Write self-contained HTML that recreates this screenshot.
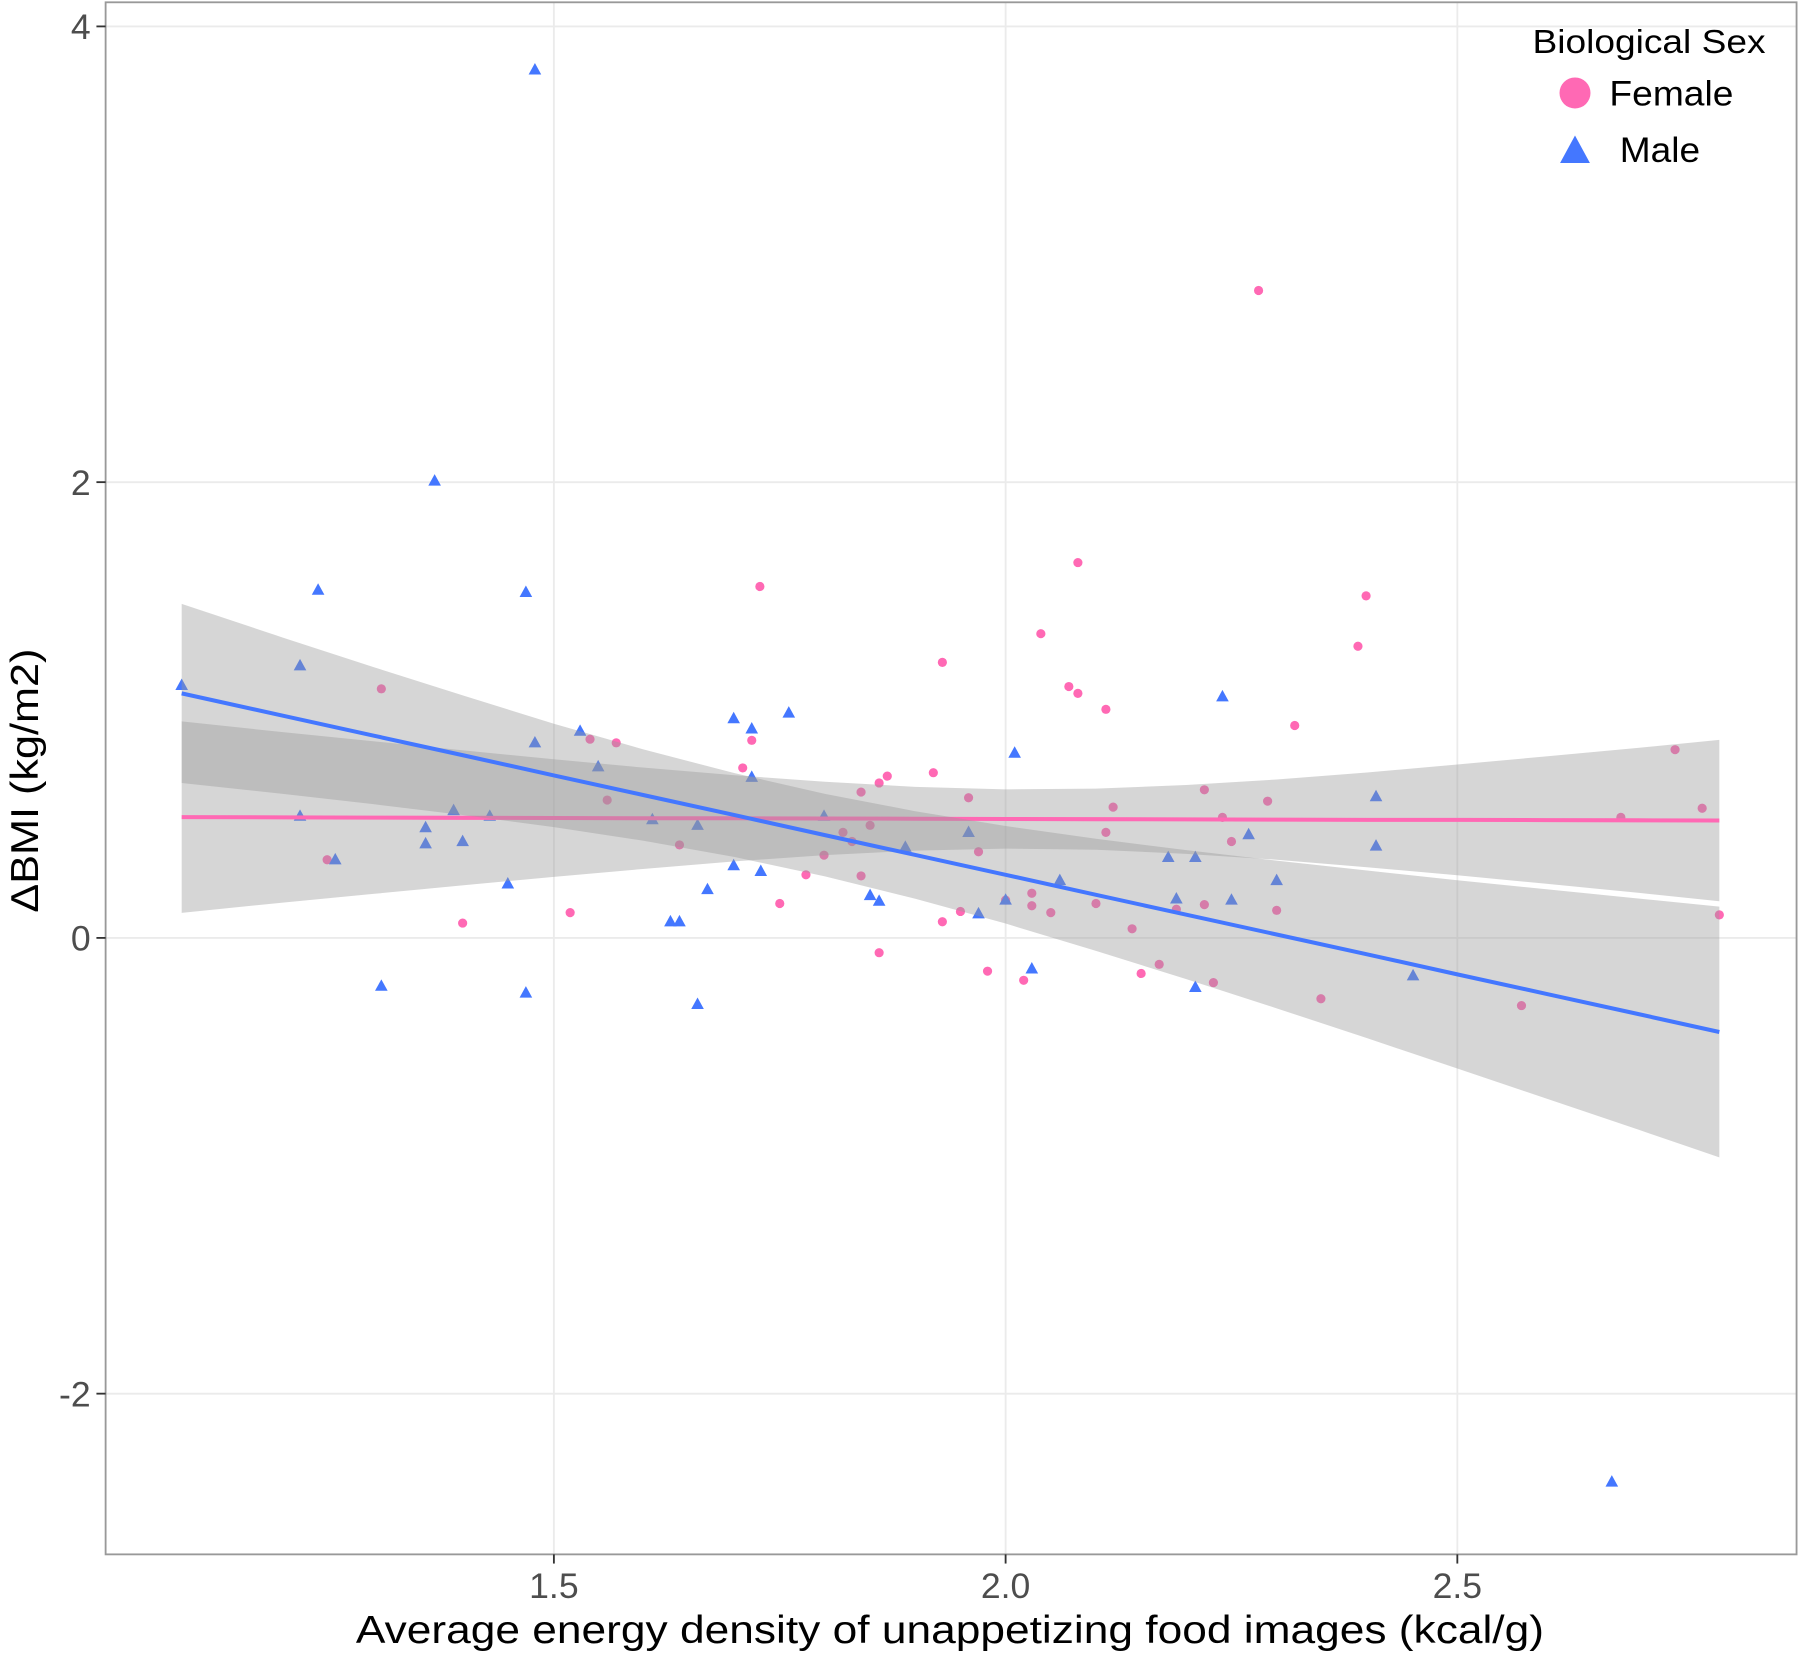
<!DOCTYPE html>
<html><head><meta charset="utf-8">
<style>
html,body{margin:0;padding:0;background:#fff;}
svg{display:block;font-family:"Liberation Sans",Arial,sans-serif;}
</style></head>
<body>
<svg id="chart" width="1800" height="1657" viewBox="0 0 1568 1443.4" preserveAspectRatio="none" xmlns="http://www.w3.org/2000/svg">
<g id="grid"></g>
<g id="points"></g>
<g id="smooth"></g>
<rect x="92" y="2" width="1473" height="1352" fill="none" stroke="#999" stroke-width="1.6"/>
<g id="axes"></g>
<text x="310" y="1431" font-size="34" textLength="1035" lengthAdjust="spacingAndGlyphs" fill="#000">Average energy density of unappetizing food images (kcal/g)</text>
<text transform="translate(33,795) rotate(-90)" font-size="34" textLength="230" lengthAdjust="spacingAndGlyphs" fill="#000">ΔBMI (kg/m2)</text>
<g>
<text x="1335" y="46" font-size="29" textLength="203" lengthAdjust="spacingAndGlyphs" fill="#000">Biological Sex</text>
<circle cx="1372" cy="81" r="13.5" fill="#FF69B4"/>
<text x="1402" y="92" font-size="31" textLength="108" lengthAdjust="spacingAndGlyphs" fill="#000">Female</text>
<polygon points="1359,142 1385,142 1372,118" fill="#4477FF"/>
<text x="1411" y="141" font-size="31" textLength="70" lengthAdjust="spacingAndGlyphs" fill="#000">Male</text>
</g>
</svg>
<script>
const femaleX=[1.309,1.249,1.399,1.518,1.54,1.569,1.559,1.639,1.728,1.719,1.709,1.75,1.779,1.799,1.82,1.83,1.84,1.85,1.84,1.86,1.869,1.86,1.92,1.93,1.93,1.95,1.959,1.97,1.98,2.0,2.02,2.029,2.029,2.039,2.05,2.07,2.08,2.08,2.1,2.111,2.111,2.119,2.14,2.15,2.17,2.189,2.22,2.22,2.23,2.24,2.25,2.28,2.29,2.3,2.32,2.349,2.39,2.399,2.571,2.681,2.741,2.771,2.79];
const femaleY=[1.093,0.343,0.065,0.111,0.872,0.856,0.605,0.408,1.542,0.867,0.746,0.151,0.277,0.363,0.463,0.423,0.64,0.494,0.272,0.68,0.71,-0.065,0.725,1.209,0.071,0.116,0.615,0.378,-0.146,0.166,-0.186,0.196,0.141,1.335,0.111,1.103,1.647,1.073,0.151,1.003,0.463,0.574,0.04,-0.156,-0.116,0.126,0.65,0.146,-0.196,0.529,0.423,2.841,0.6,0.121,0.932,-0.267,1.28,1.501,-0.297,0.529,0.826,0.569,0.101];
const maleX=[1.088,1.219,1.239,1.219,1.258,1.309,1.358,1.358,1.368,1.389,1.399,1.429,1.449,1.469,1.469,1.479,1.479,1.529,1.549,1.609,1.629,1.639,1.659,1.659,1.67,1.699,1.699,1.719,1.719,1.729,1.76,1.799,1.85,1.86,1.889,1.959,1.97,2.0,2.01,2.029,2.06,2.18,2.189,2.21,2.21,2.24,2.25,2.269,2.3,2.41,2.41,2.451,2.671];
const maleY=[1.108,1.194,1.526,0.534,0.343,-0.212,0.484,0.413,2.005,0.559,0.423,0.534,0.237,-0.242,1.516,3.809,0.856,0.907,0.751,0.519,0.071,0.071,0.494,-0.292,0.212,0.962,0.317,0.917,0.705,0.292,0.987,0.534,0.186,0.161,0.398,0.463,0.106,0.166,0.811,-0.136,0.252,0.353,0.171,0.353,-0.217,1.058,0.166,0.453,0.252,0.62,0.403,-0.166,-2.388];
const fitX=[1.088,1.2,1.3,1.4,1.5,1.6,1.7,1.8,1.9,2.0,2.1,2.2,2.3,2.4,2.5,2.6,2.7,2.79];
const femaleFit=[0.530,0.529,0.528,0.527,0.526,0.525,0.525,0.524,0.523,0.522,0.521,0.520,0.519,0.518,0.518,0.517,0.516,0.515];
const femaleLo=[0.110,0.155,0.193,0.231,0.268,0.303,0.336,0.363,0.383,0.392,0.387,0.369,0.343,0.310,0.275,0.237,0.198,0.161];
const femaleHi=[0.950,0.903,0.863,0.823,0.784,0.747,0.714,0.685,0.663,0.652,0.655,0.671,0.695,0.726,0.761,0.797,0.834,0.869];
const maleFit=[1.073,0.975,0.888,0.801,0.713,0.626,0.539,0.451,0.364,0.277,0.189,0.102,0.015,-0.072,-0.160,-0.247,-0.334,-0.413];
const maleLo=[0.680,0.632,0.587,0.539,0.486,0.426,0.355,0.270,0.172,0.063,-0.057,-0.181,-0.309,-0.440,-0.573,-0.707,-0.841,-0.963];
const maleHi=[1.466,1.318,1.189,1.063,0.940,0.826,0.723,0.632,0.556,0.491,0.435,0.385,0.339,0.296,0.253,0.213,0.173,0.137];
const xTicks=[1.5,2.0,2.5];
const xTickLabels=["1.5","2.0","2.5"];
const yTicks=[-2,0,2,4];
const yTickLabels=["-2","0","2","4"];

const NS="http://www.w3.org/2000/svg";
function sx(v){return 876+787*(v-2);}
function sy(v){return 817-198.5*v;}
function mk(tag,attrs,parent){const e=document.createElementNS(NS,tag);for(const k in attrs)e.setAttribute(k,attrs[k]);parent.appendChild(e);return e;}
const grid=document.getElementById('grid'),axes=document.getElementById('axes'),pts=document.getElementById('points'),sm=document.getElementById('smooth');
xTicks.forEach((v,i)=>{const g=mk('line',{x1:sx(v),x2:sx(v),y1:2,y2:1354,stroke:'#ebebeb','stroke-width':1.6},grid);


const t=mk('line',{x1:sx(v),x2:sx(v),y1:1354,y2:1362,stroke:'#333','stroke-width':1.6},axes);


const tx=mk('text',{x:sx(v),y:1392,'font-size':31,'text-anchor':'middle',fill:'#4d4d4d'},axes);tx.textContent=xTickLabels[i];

});
yTicks.forEach((v,i)=>{const g=mk('line',{x1:92,x2:1565,y1:sy(v),y2:sy(v),stroke:'#ebebeb','stroke-width':1.6},grid);


const t=mk('line',{x1:84,x2:92,y1:sy(v),y2:sy(v),stroke:'#333','stroke-width':1.6},axes);


const tx=mk('text',{x:79,y:sy(v)+11,'font-size':31,'text-anchor':'end',fill:'#4d4d4d'},axes);tx.textContent=yTickLabels[i];

});
femaleX.forEach((x,i)=>{const c=mk('circle',{cx:sx(x),cy:sy(femaleY[i]),r:4,fill:'#FF69B4'},pts);

});
maleX.forEach((x,i)=>{const cx=sx(x),cy=sy(maleY[i]);const p=mk('polygon',{points:`${cx-5.5},${cy+4} ${cx+5.5},${cy+4} ${cx},${cy-6}`,fill:'#4477FF'},pts);

});
function band(lo,hi,name){const up=fitX.map((x,i)=>sx(x)+','+sy(hi[i]));const dn=fitX.map((x,i)=>sx(x)+','+sy(lo[i])).reverse();
const p=mk('polygon',{points:up.concat(dn).join(' '),fill:'#999','fill-opacity':0.4,stroke:'none'},sm);

}
function line(f,col,name){const p=mk('polyline',{points:fitX.map((x,i)=>sx(x)+','+sy(f[i])).join(' '),fill:'none',stroke:col,'stroke-width':3.5},sm);

}
band(femaleLo,femaleHi,'female-confidence-band');
line(femaleFit,'#FF69B4','female-fit-line');
band(maleLo,maleHi,'male-confidence-band');
line(maleFit,'#4477FF','male-fit-line');
</script>
</body></html>
